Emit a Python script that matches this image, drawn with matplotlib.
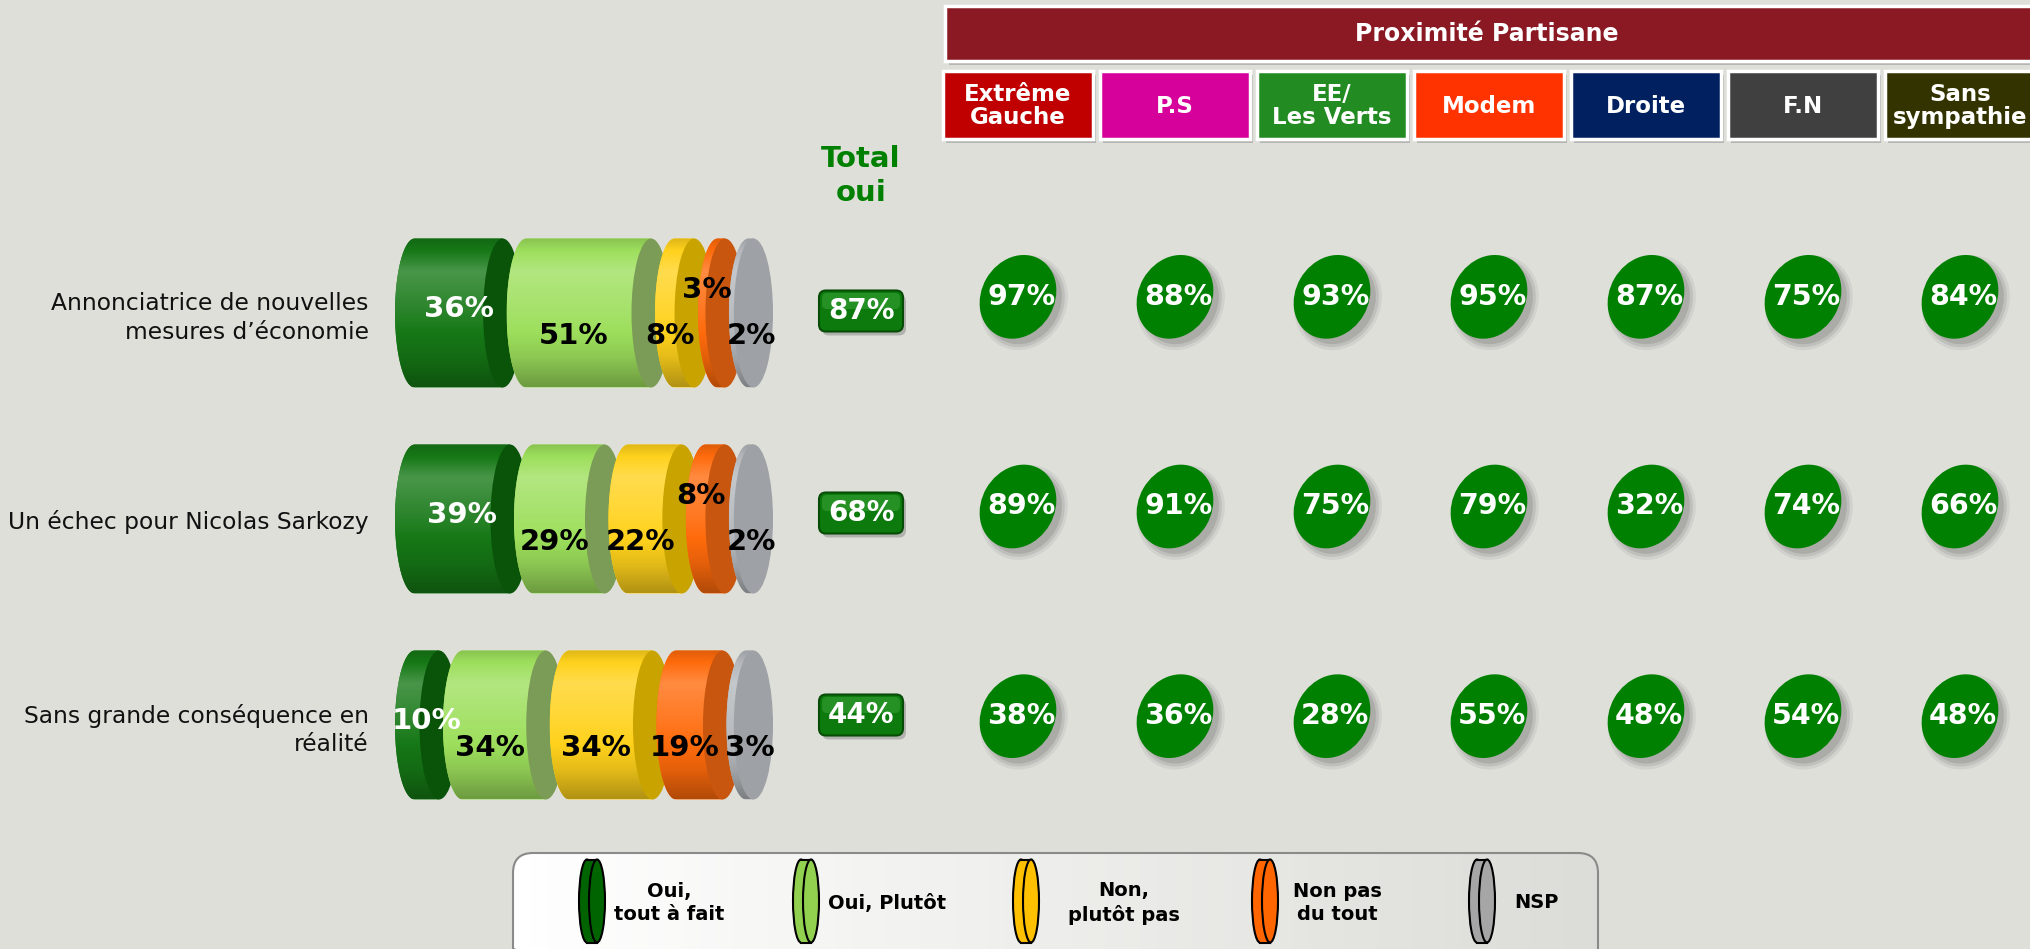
import numpy as np
import matplotlib
matplotlib.use("Agg")
import matplotlib.pyplot as plt
import matplotlib.colors as mcolors
from matplotlib import transforms
from matplotlib.patches import Ellipse, Rectangle, FancyBboxPatch, PathPatch
from matplotlib.path import Path

# ---- data -------------------------------------------------------------
questions = [
    "Annonciatrice de nouvelles\nmesures d’économie",
    "Un échec pour Nicolas Sarkozy",
    "Sans grande conséquence en\nréalité",
]
answer_labels = ["Oui,\ntout à fait", "Oui, Plutôt", "Non,\nplutôt pas", "Non pas\ndu tout", "NSP"]
tout_a_fait = [36, 39, 10]
plutot_oui = [51, 29, 34]
plutot_pas = [8, 22, 34]
pas_du_tout = [3, 8, 19]
nsp = [2, 2, 3]
total_oui = [87, 68, 44]

parties = ["Extrême\nGauche", "P.S", "EE/\nLes Verts", "Modem", "Droite", "F.N", "Sans\nsympathie"]
extreme_gauche = [97, 89, 38]
ps = [88, 91, 36]
ee_verts = [93, 75, 28]
modem = [95, 79, 55]
droite = [87, 32, 48]
fn = [75, 74, 54]
sans_sympathie = [84, 66, 48]

# ---- style ------------------------------------------------------------
W, H = 2030, 949
BG = "#dfdfda"
GREEN = "#008000"
plt.rcParams["font.family"] = ["DejaVu Sans"]

series = [tout_a_fait, plutot_oui, plutot_pas, pas_du_tout, nsp]
party_values = [extreme_gauche, ps, ee_verts, modem, droite, fn, sans_sympathie]
body_colors = ["#167816", "#9ddf5c", "#ffd21c", "#ff6b0c", "#b4b8bc"]
face_colors = ["#0a540a", "#7b9c56", "#c9a300", "#c8560e", "#9ea1a5"]
legend_colors = ["#006400", "#92d050", "#ffc000", "#ff6600", "#a6a6a6"]
party_colors = ["#c00000", "#d6009a", "#228b22", "#ff3300", "#002060", "#404040", "#333300"]

fig = plt.figure(figsize=(W / 100, H / 100), dpi=100, facecolor=BG)


def add_px_axes(left, top, width, height):
    ax = fig.add_axes([left / W, 1 - (top + height) / H, width / W, height / H])
    ax.patch.set_visible(False)
    return ax


def shade(color, f):
    rgb = np.array(mcolors.to_rgb(color))
    return rgb + (1 - rgb) * f if f > 0 else rgb * (1 + f)


def vertical_gradient(color, n=64):
    t = np.linspace(0, 1, n)
    f = np.interp(t, [0.0, 0.22, 0.5, 0.8, 1.0], [-0.12, 0.22, 0.08, -0.1, -0.3])
    return np.clip(np.array([shade(color, v) for v in f]), 0, 1)[:, None, :]


ax_px = add_px_axes(0, 0, W, H)
ax_px.set_xlim(0, W)
ax_px.set_ylim(H, 0)
ax_px.axis("off")

# ---- stacked cylinders --------------------------------------------------
GAP, CAP, BAR_H = 9.6, 8.0, 0.723
n_rows = len(questions)
n_seg = len(series)
span = max(sum(s[r] for s in series) for r in range(n_rows)) + GAP * (n_seg - 1)

ax_bar = add_px_axes(395, 210, 378, 618)
for sp in ax_bar.spines.values():
    sp.set_visible(False)
ax_bar.set_xticks([])
ax_bar.set_yticks(range(n_rows), questions)
ax_bar.tick_params(axis="y", length=0, pad=19, labelsize=16.8, labelcolor="#111111")
for lab in ax_bar.get_yticklabels():
    lab.set_linespacing(1.3)

for r in range(n_rows):
    a = 0.0
    for i, s in enumerate(series):
        v = s[r]
        b = a + v
        t = np.linspace(np.pi / 2, 3 * np.pi / 2, 40)
        verts = [(a + CAP * np.cos(k), r - BAR_H / 2 * np.sin(k)) for k in t]
        verts += [(b, r + BAR_H / 2), (b, r - BAR_H / 2), verts[0]]
        body = PathPatch(Path(verts, closed=True), fc=body_colors[i], ec="none", zorder=2 + 3 * i)
        ax_bar.add_patch(body)
        im = ax_bar.imshow(vertical_gradient(body_colors[i]), extent=[a - CAP, b, r + BAR_H / 2, r - BAR_H / 2],
                           aspect="auto", interpolation="bicubic", zorder=2.5 + 3 * i)
        im.set_clip_path(body)
        ax_bar.add_patch(Ellipse((b, r), 2 * CAP, BAR_H, fc=face_colors[i], ec="none", zorder=3 + 3 * i))

        if i == 0:
            tx, ty, col = (a + b) / 2, r - 0.02, "white"
        elif i == n_seg - 1:
            tx, ty, col = (a + b) / 2, r + 0.11, "black"
        else:
            tx, ty, col = (a + b) / 2 - 6, r + 0.11, "black"
            if i == 3 and v < 10:
                ty = r - 0.11
        ax_bar.text(tx, ty, f"{v}%", ha="center", va="center", color=col,
                    fontsize=21, fontweight="bold", zorder=50)
        a = b + GAP

ax_bar.set_xlim(-CAP, span + CAP)
ax_bar.set_ylim(n_rows - 0.5, -0.5)

# ---- total boxes + party ellipses -------------------------------------------
col0_px, col_step = 861, 157
grid_left = col0_px - col_step / 2
n_cols_visible = (W - grid_left) / col_step

ax_tot = add_px_axes(grid_left, 210, W - grid_left, 606)
ax_tot.set_xlim(-0.5, -0.5 + n_cols_visible)
ax_tot.set_ylim(n_rows - 0.5, -0.5)
ax_tot.axis("off")

ax_grid = add_px_axes(grid_left, 192, W - grid_left, 629)
ax_grid.set_xlim(-0.5, -0.5 + n_cols_visible)
ax_grid.set_ylim(n_rows - 0.5, -0.5)
ax_grid.axis("off")

for r in range(n_rows):
    tr = fig.dpi_scale_trans + transforms.ScaledTranslation(0, r, ax_tot.transData)
    ax_tot.add_patch(FancyBboxPatch((-0.39, -0.245), 0.84, 0.41, boxstyle="round,pad=0,rounding_size=0.07",
                                    fc="#7a7a7a", ec="none", alpha=0.45, transform=tr))
    ax_tot.add_patch(FancyBboxPatch((-0.42, -0.205), 0.84, 0.41, boxstyle="round,pad=0,rounding_size=0.07",
                                    fc="#0c7a0c", ec="#064c06", lw=1.5, transform=tr))
    ax_tot.add_patch(FancyBboxPatch((-0.39, 0.02), 0.78, 0.16, boxstyle="round,pad=0,rounding_size=0.05",
                                    fc="#3aa53a", ec="none", alpha=0.55, transform=tr))
    ax_tot.text(0, r, f"{total_oui[r]}%", ha="center", va="center", color="white",
                fontsize=20, fontweight="bold")

    for j, vals in enumerate(party_values, start=1):
        tr = fig.dpi_scale_trans + transforms.ScaledTranslation(j, r, ax_grid.transData)
        for k, al in enumerate([0.12, 0.18, 0.25]):
            ax_grid.add_patch(Ellipse((0.06, -0.06), 0.86 + 0.06 * (2 - k), 0.72 + 0.06 * (2 - k), angle=60,
                                      fc="#707070", ec="none", alpha=al, transform=tr))
        ax_grid.add_patch(Ellipse((0, 0), 0.87, 0.73, angle=60, fc=GREEN, ec="none", transform=tr))
        ax_grid.text(j + 0.02, r, f"{vals[r]}%", ha="center", va="center", color="white",
                     fontsize=20.5, fontweight="bold")

# ---- headers ----------------------------------------------------------
ax_px.text(col0_px, 176, "Total\noui", ha="center", va="center", color=GREEN,
           fontsize=21, fontweight="bold", linespacing=1.3)

ax_px.add_patch(Rectangle((949, 10), 1100, 55, fc="#9a9a9a", ec="none", alpha=0.6))
ax_px.add_patch(Rectangle((945, 6), 1100, 55, fc="#8a1923", ec="white", lw=2.5))
ax_px.text(1487, 34, "Proximité Partisane", ha="center", va="center", color="white",
           fontsize=17, fontweight="bold")

for j, (name, colr) in enumerate(zip(parties, party_colors), start=1):
    cx = col0_px + j * col_step
    ax_px.add_patch(Rectangle((cx - 75 + 3, 75), 150, 68, fc="#9a9a9a", ec="none", alpha=0.6))
    ax_px.add_patch(Rectangle((cx - 75, 71), 150, 68, fc=colr, ec="white", lw=2.5))
    ax_px.text(cx, 106, name, ha="center", va="center", color="white", fontsize=16.5,
               fontweight="bold", linespacing=1.05)

# ---- legend -----------------------------------------------------------
leg = FancyBboxPatch((513, 853), 1085, 115, boxstyle="round,pad=0,rounding_size=20",
                     fc="white", ec="none", zorder=1)
ax_px.add_patch(leg)
grad = np.linspace(0, 1, 64)
leg_img = np.array([shade("#dcdcd8", 0) * g + np.ones(3) * (1 - g) for g in grad])[None, :, :]
im = ax_px.imshow(leg_img, extent=[513, 1598, 968, 853], aspect="auto", zorder=1.5)
im.set_clip_path(leg)
ax_px.add_patch(FancyBboxPatch((513, 853), 1085, 115, boxstyle="round,pad=0,rounding_size=20",
                               fc="none", ec="#8a8a8a", lw=1.5, zorder=2))

icon_x = [592, 806, 1026, 1265, 1482]
text_x = [669, 887, 1124, 1337, 1536]
for cx, tx, lab, colr in zip(icon_x, text_x, answer_labels, legend_colors):
    cy, hh = 901, 83
    ax_px.add_patch(Ellipse((cx - 5, cy), 16, hh, fc=colr, ec="black", lw=1.5, zorder=3))
    ax_px.add_patch(Rectangle((cx - 5, cy - hh / 2), 10, hh, fc=colr, ec="none", zorder=3.1))
    ax_px.plot([cx - 5, cx + 5], [cy - hh / 2, cy - hh / 2], color="black", lw=1.5, zorder=3.2)
    ax_px.plot([cx - 5, cx + 5], [cy + hh / 2, cy + hh / 2], color="black", lw=1.5, zorder=3.2)
    ax_px.add_patch(Ellipse((cx + 5, cy), 16, hh, fc=colr, ec="black", lw=1.5, zorder=3.3))
    ax_px.text(tx, cy + 2, lab, ha="center", va="center", fontsize=14, fontweight="bold",
               color="black", linespacing=1.3, zorder=4)

ax_px.set_xlim(0, W)
ax_px.set_ylim(H, 0)

fig.savefig("out.png", dpi=100, facecolor=BG)
